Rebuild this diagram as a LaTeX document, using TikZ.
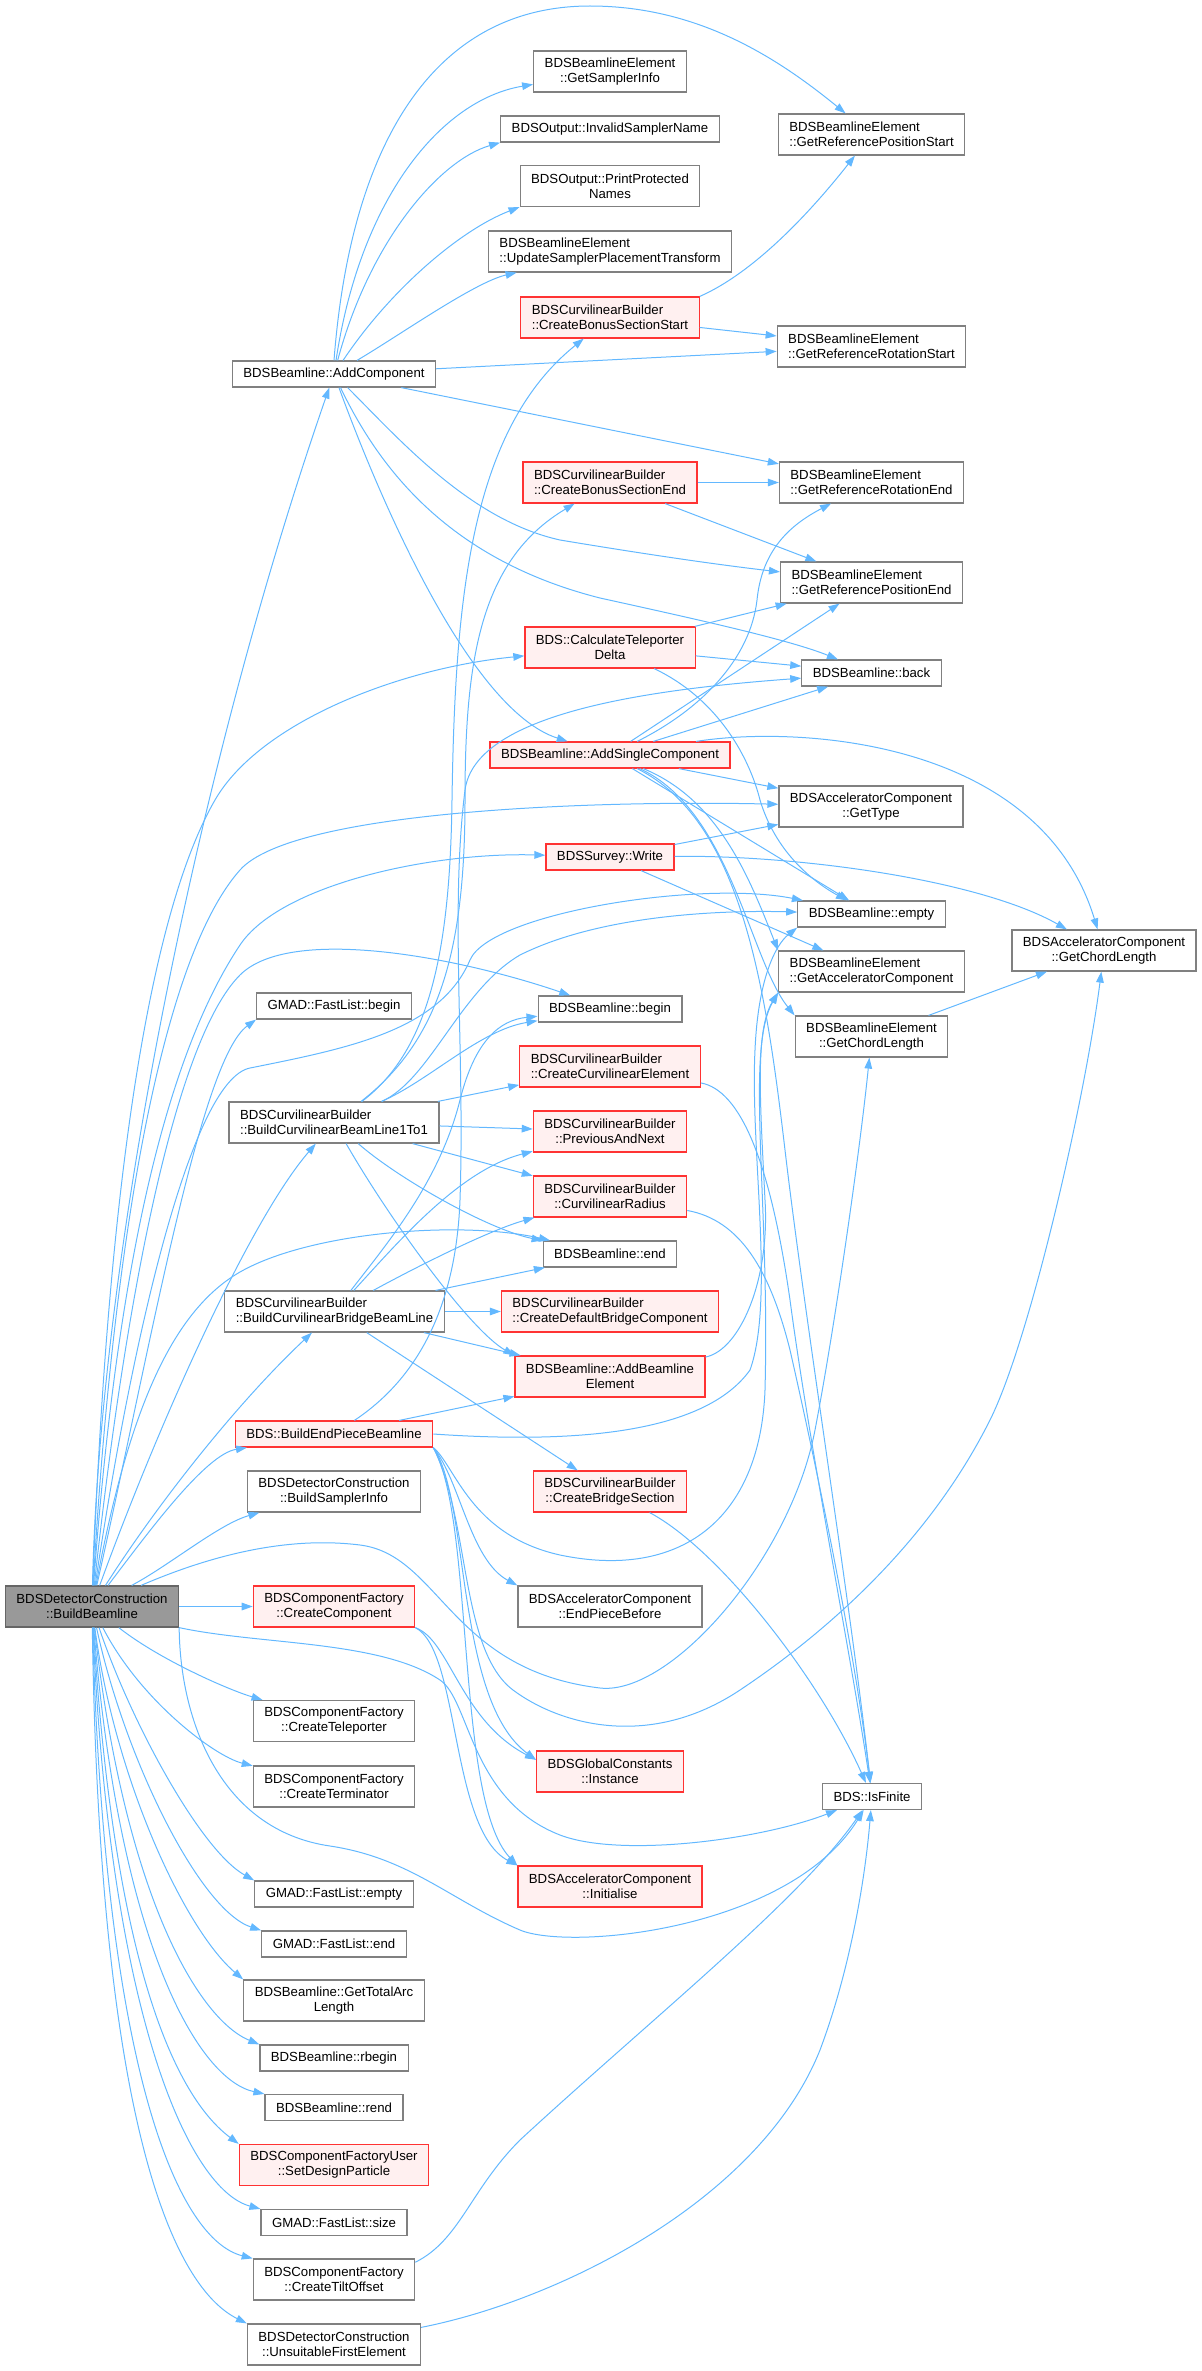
\documentclass[tikz,border=0pt]{standalone}
\usepackage{fontspec}
\setmainfont{Liberation Sans}
\usetikzlibrary{arrows.meta}
\definecolor{edgeblue}{HTML}{63B8FF}
\definecolor{boxgray}{HTML}{808080}
\definecolor{rootfill}{HTML}{999999}
\definecolor{redfill}{HTML}{FFF0F0}
\definecolor{redline}{HTML}{FF3333}

\begin{document}
\begin{tikzpicture}[x=0.5pt, y=-0.5pt,
    fn/.style={draw=boxgray, line width=0.6pt, fill=white, font=\fontsize{6.6}{7.5}\selectfont,
      inner xsep=5.5pt, inner ysep=3.4pt, minimum height=13pt, align=center},
    two/.style={minimum height=20.5pt},
    lft/.style={align=left},
    redfn/.style={draw=redline, fill=redfill},
    call/.style={edgeblue, line width=0.5pt, -{Triangle[length=5.5pt,width=3.8pt]}}]

    \useasboundingbox (0,0) rectangle (1201,2371);

    % Caller
    \node[fn, two, fill=rootfill, draw=boxgray!80!black] (root) at (92,1606.5) {BDSDetectorConstruction\\::BuildBeamline};

    % First level
    \node[fn] (addComp) at (334,374) {BDSBeamline::AddComponent};
    \node[fn] (flbegin) at (334,1006) {GMAD::FastList::begin};
    \node[fn, two, lft] (oneToOne) at (334,1122.5) {BDSCurvilinearBuilder\\::BuildCurvilinearBeamLine1To1};
    \node[fn, two, lft] (bridgeLine) at (334.5,1311.5) {BDSCurvilinearBuilder\\::BuildCurvilinearBridgeBeamLine};
    \node[fn, redfn] (endPiece) at (334,1434) {BDS::BuildEndPieceBeamline};
    \node[fn, two] (samplerInfo) at (334,1491.5) {BDSDetectorConstruction\\::BuildSamplerInfo};
    \node[fn, two, redfn] (createComp) at (334,1606.5) {BDSComponentFactory\\::CreateComponent};
    \node[fn, two] (teleporter) at (334,1721) {BDSComponentFactory\\::CreateTeleporter};
    \node[fn, two] (terminator) at (334,1786.5) {BDSComponentFactory\\::CreateTerminator};
    \node[fn] (flempty) at (334,1894) {GMAD::FastList::empty};
    \node[fn] (flend) at (334,1944) {GMAD::FastList::end};
    \node[fn, two] (totalArc) at (334,2000.5) {BDSBeamline::GetTotalArc\\Length};
    \node[fn] (rbegin) at (334,2058) {BDSBeamline::rbegin};
    \node[fn] (rend) at (334,2107.5) {BDSBeamline::rend};
    \node[fn, two, redfn] (designPart) at (334,2165) {BDSComponentFactoryUser\\::SetDesignParticle};
    \node[fn] (flsize) at (334,2222.5) {GMAD::FastList::size};
    \node[fn, two] (tiltOffset) at (334,2279.5) {BDSComponentFactory\\::CreateTiltOffset};
    \node[fn, two] (unsuitable) at (334,2344.5) {BDSDetectorConstruction\\::UnsuitableFirstElement};

    % Second level
    \node[fn, two] (samplerGet) at (610,71.5) {BDSBeamlineElement\\::GetSamplerInfo};
    \node[fn] (invalidName) at (610,129) {BDSOutput::InvalidSamplerName};
    \node[fn, two] (printNames) at (610,186) {BDSOutput::PrintProtected\\Names};
    \node[fn, two, lft] (updateSampler) at (610,251.5) {BDSBeamlineElement\\::UpdateSamplerPlacementTransform};
    \node[fn, two, lft, redfn] (bonusStart) at (610,317.5) {BDSCurvilinearBuilder\\::CreateBonusSectionStart};
    \node[fn, two, lft, redfn] (bonusEnd) at (610,482.5) {BDSCurvilinearBuilder\\::CreateBonusSectionEnd};
    \node[fn, two, redfn] (calcTele) at (610,647.5) {BDS::CalculateTeleporter\\Delta};
    \node[fn, redfn] (addSingle) at (610,755) {BDSBeamline::AddSingleComponent};
    \node[fn, redfn] (surveyWrite) at (610,857) {BDSSurvey::Write};
    \node[fn] (blBegin) at (610,1009) {BDSBeamline::begin};
    \node[fn, two, lft, redfn] (curvElement) at (610,1066.5) {BDSCurvilinearBuilder\\::CreateCurvilinearElement};
    \node[fn, two, redfn] (prevNext) at (610,1131.5) {BDSCurvilinearBuilder\\::PreviousAndNext};
    \node[fn, two, redfn] (curvRadius) at (610,1196.5) {BDSCurvilinearBuilder\\::CurvilinearRadius};
    \node[fn] (blEnd) at (610,1254) {BDSBeamline::end};
    \node[fn, two, lft, redfn] (defaultBridge) at (610,1311.5) {BDSCurvilinearBuilder\\::CreateDefaultBridgeComponent};
    \node[fn, two, redfn] (addElement) at (610,1376.5) {BDSBeamline::AddBeamline\\Element};
    \node[fn, two, redfn] (bridgeSection) at (610,1491.5) {BDSCurvilinearBuilder\\::CreateBridgeSection};
    \node[fn, two] (endPieceBefore) at (610,1606.5) {BDSAcceleratorComponent\\::EndPieceBefore};
    \node[fn, two, redfn] (gcInstance) at (610,1771.5) {BDSGlobalConstants\\::Instance};
    \node[fn, two, redfn] (accInit) at (610,1886.5) {BDSAcceleratorComponent\\::Initialise};

    % Third level
    \node[fn, two, lft] (refPosStart) at (871.5,134.5) {BDSBeamlineElement\\::GetReferencePositionStart};
    \node[fn, two, lft] (refRotStart) at (871.5,346.5) {BDSBeamlineElement\\::GetReferenceRotationStart};
    \node[fn, two, lft] (refRotEnd) at (871.5,482.5) {BDSBeamlineElement\\::GetReferenceRotationEnd};
    \node[fn, two, lft] (refPosEnd) at (871.5,582.5) {BDSBeamlineElement\\::GetReferencePositionEnd};
    \node[fn] (blBack) at (871.5,673) {BDSBeamline::back};
    \node[fn, two] (getType) at (871,806.5) {BDSAcceleratorComponent\\::GetType};
    \node[fn] (blEmpty) at (871.5,914) {BDSBeamline::empty};
    \node[fn, two, lft] (getAccComp) at (871.5,971.5) {BDSBeamlineElement\\::GetAcceleratorComponent};
    \node[fn, two] (beChord) at (871.5,1036.5) {BDSBeamlineElement\\::GetChordLength};
    \node[fn] (isFinite) at (872,1796.5) {BDS::IsFinite};
    \node[fn, two] (acChord) at (1104,950.5) {BDSAcceleratorComponent\\::GetChordLength};

    % Calls from the caller, upwards
    \draw[call] (root) .. controls (100,1250) and (200,760) .. (addComp);
    \draw[call] (root) .. controls (105,1250) and (140,930) .. (215,800) .. controls (260,722) and (400,668) .. (calcTele);
    \draw[call] (root) .. controls (112,1250) and (160,960) .. (240,870) .. controls (293,810) and (600,800) .. (getType);
    \draw[call] (root) .. controls (118,1250) and (170,1050) .. (240,945) .. controls (280,885) and (430,852) .. (surveyWrite);
    \draw[call] (root) .. controls (125,1300) and (175,1040) .. (240,975) .. controls (290,925) and (458,957) .. (blBegin);
    \draw[call] (root) .. controls (130,1350) and (190,1080) .. (250,1068) .. controls (350,1048) and (440,1030) .. (470,960) .. controls (490,913) and (700,880) .. (blEmpty);
    \draw[call] (root) .. controls (150,1350) and (200,1060) .. (flbegin.south west);
    \draw[call] (root) .. controls (160,1420) and (250,1220) .. (oneToOne);
    \draw[call] (root) .. controls (125,1430) and (165,1315) .. (240,1272) .. controls (310,1232) and (460,1220) .. (blEnd);
    \draw[call] (root) .. controls (160,1500) and (240,1400) .. (bridgeLine);
    \draw[call] (root) .. controls (150,1530) and (206,1454) .. (endPiece);
    \draw[call] (root) .. controls (170,1565) and (219,1524) .. (samplerInfo);
    \draw[call] (root) -- (createComp);
    \draw[call] (root) .. controls (200,1560) and (280,1535) .. (360,1545) .. controls (440,1555) and (450,1670) .. (600,1688) .. controls (670,1696) and (790,1560) .. (815,1430) .. controls (835,1326) and (860,1150) .. (beChord);

    % Calls from the caller, downwards
    \draw[call] (root.south east) .. controls (260,1645) and (380,1640) .. (440,1680) .. controls (470,1700) and (470,1800) .. (560,1835) .. controls (620,1858) and (760,1840) .. (isFinite);
    \draw[call] (root.south east) .. controls (180,1720) and (220,1830) .. (330,1846) .. controls (410,1858) and (450,1900) .. (520,1930) .. controls (570,1951) and (790,1930) .. (isFinite);
    \draw[call] (root) .. controls (160,1660) and (229,1690) .. (teleporter);
    \draw[call] (root) .. controls (140,1700) and (214,1756) .. (terminator);
    \draw[call] (root) .. controls (130,1720) and (200,1850) .. (flempty.north west);
    \draw[call] (root) .. controls (125,1760) and (200,1910) .. (flend.north west);
    \draw[call] (root) .. controls (115,1780) and (185,1930) .. (totalArc.north west);
    \draw[call] (root) .. controls (125,1900) and (200,2020) .. (rbegin.north west);
    \draw[call] (root) .. controls (120,1950) and (200,2080) .. (rend.north west);
    \draw[call] (root) .. controls (115,1980) and (180,2100) .. (designPart.north west);
    \draw[call] (root) .. controls (110,2020) and (190,2190) .. (flsize.north west);
    \draw[call] (root) .. controls (105,2080) and (180,2240) .. (tiltOffset.north west);
    \draw[call] (root) .. controls (100,2150) and (180,2290) .. (unsuitable.north west);

    % AddComponent
    \draw[call] (addComp.north) .. controls (350,150) and (430,6) .. (590,6) .. controls (700,6) and (780,60) .. (refPosStart);
    \draw[call] (addComp) .. controls (360,200) and (440,100) .. (samplerGet);
    \draw[call] (addComp) .. controls (370,240) and (440,160) .. (invalidName.south west);
    \draw[call] (addComp) .. controls (390,290) and (460,230) .. (printNames.south west);
    \draw[call] (addComp) .. controls (400,335) and (475,282) .. (updateSampler);
    \draw[call] (addComp) -- (refRotStart);
    \draw[call] (addComp) -- (refRotEnd);
    \draw[call] (addComp) .. controls (400,440) and (470,520) .. (560,540) .. controls (650,555) and (720,565) .. (refPosEnd);
    \draw[call] (addComp) .. controls (380,470) and (450,560) .. (600,598) .. controls (700,620) and (790,640) .. (blBack);
    \draw[call] (addComp) .. controls (380,500) and (470,710) .. (addSingle);

    % BuildCurvilinearBeamLine1To1
    \draw[call] (oneToOne) .. controls (430,1050) and (450,950) .. (452,800) .. controls (455,600) and (470,430) .. (bonusStart);
    \draw[call] (oneToOne) .. controls (440,1040) and (465,950) .. (465,800) .. controls (465,660) and (480,560) .. (bonusEnd);
    \draw[call] (oneToOne) .. controls (430,1080) and (480,1030) .. (blBegin);
    \draw[call] (oneToOne) .. controls (430,1080) and (460,990) .. (520,955) .. controls (600,915) and (720,910) .. (blEmpty);
    \draw[call] (oneToOne) -- (curvElement);
    \draw[call] (oneToOne) -- (prevNext);
    \draw[call] (oneToOne) -- (curvRadius);
    \draw[call] (oneToOne) .. controls (400,1180) and (490,1230) .. (blEnd);
    \draw[call] (oneToOne) .. controls (390,1220) and (470,1330) .. (addElement.north west);

    % BuildCurvilinearBridgeBeamLine
    \draw[call] (bridgeLine) .. controls (390,1240) and (440,1180) .. (460,1100) .. controls (475,1040) and (500,1020) .. (blBegin);
    \draw[call] (bridgeLine) .. controls (400,1240) and (460,1170) .. (prevNext);
    \draw[call] (bridgeLine) .. controls (420,1265) and (490,1230) .. (curvRadius);
    \draw[call] (bridgeLine) -- (blEnd);
    \draw[call] (bridgeLine) -- (defaultBridge);
    \draw[call] (bridgeLine) -- (addElement);
    \draw[call] (bridgeLine) -- (bridgeSection);

    % BuildEndPieceBeamline
    \draw[call] (endPiece) -- (addElement);
    \draw[call] (endPiece) .. controls (400,1390) and (455,1330) .. (460,1200) .. controls (465,1050) and (450,910) .. (465,790) .. controls (475,715) and (640,690) .. (blBack);
    \draw[call] (endPiece.east) .. controls (550,1442) and (700,1440) .. (750,1370) .. controls (775,1300) and (750,1150) .. (755,1050) .. controls (758,980) and (775,945) .. (blEmpty.south west);
    \draw[call] (endPiece.south east) .. controls (455,1465) and (470,1535) .. (560,1555) .. controls (680,1580) and (760,1520) .. (765,1390) .. controls (770,1200) and (745,1050) .. (getAccComp.south west);
    \draw[call] (endPiece.south east) .. controls (460,1480) and (470,1560) .. (endPieceBefore.north west);
    \draw[call] (endPiece.south east) .. controls (470,1500) and (455,1700) .. (gcInstance.171);
    \draw[call] (endPiece.south east) .. controls (475,1520) and (455,1800) .. (accInit.north west);
    \draw[call] (endPiece.south east) .. controls (470,1520) and (460,1650) .. (513,1690) .. controls (560,1725) and (650,1750) .. (740,1690) .. controls (830,1630) and (930,1540) .. (990,1420) .. controls (1030,1340) and (1085,1100) .. (acChord);

    % CreateComponent
    \draw[call] (createComp.south east) .. controls (450,1640) and (460,1720) .. (gcInstance.171);
    \draw[call] (createComp.south east) .. controls (460,1650) and (450,1830) .. (accInit.north west);

    % Second level calls
    \draw[call] (bonusStart.north east) .. controls (760,270) and (820,200) .. (refPosStart);
    \draw[call] (bonusStart) -- (refRotStart);
    \draw[call] (bonusEnd) -- (refRotEnd);
    \draw[call] (bonusEnd) -- (refPosEnd);
    \draw[call] (calcTele) -- (refPosEnd);
    \draw[call] (calcTele) -- (blBack);
    \draw[call] (calcTele) .. controls (720,700) and (750,760) .. (760,800) .. controls (775,850) and (810,880) .. (blEmpty);
    \draw[call] (addSingle) .. controls (700,710) and (750,660) .. (757,600) .. controls (762,550) and (790,525) .. (refRotEnd);
    \draw[call] (addSingle) -- (refPosEnd);
    \draw[call] (addSingle) -- (blBack);
    \draw[call] (addSingle) .. controls (800,725) and (1040,740) .. (acChord);
    \draw[call] (addSingle) -- (getType);
    \draw[call] (addSingle) -- (blEmpty);
    \draw[call] (addSingle) .. controls (720,800) and (750,880) .. (getAccComp.north west);
    \draw[call] (addSingle) .. controls (730,810) and (750,960) .. (beChord.north west);
    \draw[call] (addSingle) .. controls (740,820) and (765,980) .. (785,1150) .. controls (805,1320) and (850,1600) .. (isFinite);
    \draw[call] (surveyWrite) -- (getType);
    \draw[call] (surveyWrite) .. controls (800,855) and (980,880) .. (acChord);
    \draw[call] (surveyWrite) -- (getAccComp);
    \draw[call] (curvElement) .. controls (740,1090) and (770,1160) .. (790,1300) .. controls (810,1450) and (850,1650) .. (isFinite);
    \draw[call] (curvRadius) .. controls (740,1220) and (770,1270) .. (790,1350) .. controls (815,1460) and (855,1650) .. (isFinite);
    \draw[call] (addElement) .. controls (740,1350) and (770,1280) .. (765,1200) .. controls (760,1100) and (755,1030) .. (getAccComp.south west);
    \draw[call] (bridgeSection) .. controls (720,1550) and (820,1680) .. (isFinite);
    \draw[call] (tiltOffset.12) .. controls (460,2240) and (470,2190) .. (520,2140) .. controls (650,2020) and (800,1900) .. (isFinite);
    \draw[call] (unsuitable) .. controls (560,2300) and (760,2200) .. (820,2050) .. controls (850,1970) and (865,1880) .. (isFinite);

    % Third level call
    \draw[call] (beChord) -- (acChord);

\end{tikzpicture}
\end{document}
